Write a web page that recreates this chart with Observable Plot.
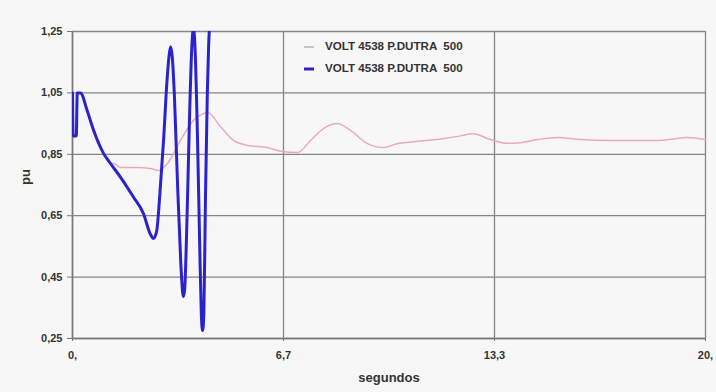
<!DOCTYPE html>
<html>
<head>
<meta charset="utf-8">
<script src="https://cdn.jsdelivr.net/npm/d3@7"></script>
<script src="https://cdn.jsdelivr.net/npm/@observablehq/plot@0.6"></script>
<style>
  html, body { margin: 0; padding: 0; background: #f7f7f7; }
  #wrap { position: relative; width: 716px; height: 392px; }
  #legend { position: absolute; left: 303px; top: 35px; font-family: "Liberation Sans", Arial, sans-serif; font-weight: bold; font-size: 11.6px; color: #333; line-height: 22px; white-space: pre; }
  #legend svg { vertical-align: middle; margin-right: 10px; }
</style>
</head>
<body>
<div id="wrap"></div>
<script>
// Series 1 (light line)
const t1 = [0, 0.02, 0.12, 0.15, 0.25, 0.47, 0.66, 0.98, 1.2, 1.3, 1.52, 2.05, 2.46, 2.72, 3.0, 3.41, 3.82, 4.14, 4.27, 4.68, 5.09, 5.53, 6.16, 6.57, 7.11, 7.52, 7.93, 8.37, 8.78, 9.32, 9.83, 10.27, 10.68, 11.63, 12.26, 12.64, 13.21, 13.74, 14.15, 14.69, 15.32, 16.05, 17.09, 18.48, 18.99, 19.43, 20.0];
const v1 = [1.05, 0.91, 0.91, 1.05, 1.05, 0.99, 0.93, 0.853, 0.82, 0.82, 0.807, 0.807, 0.804, 0.797, 0.82, 0.895, 0.96, 0.983, 0.986, 0.94, 0.895, 0.879, 0.872, 0.86, 0.856, 0.895, 0.934, 0.95, 0.928, 0.885, 0.872, 0.885, 0.89, 0.90, 0.91, 0.917, 0.898, 0.886, 0.888, 0.898, 0.905, 0.898, 0.895, 0.895, 0.90, 0.905, 0.898];
// Series 2 (blue line)
const t2 = [0, 0.02, 0.12, 0.15, 0.25, 0.47, 0.66, 0.98, 1.2, 1.52, 1.93, 2.24, 2.46, 2.56, 2.66, 2.76, 2.88, 2.98, 3.05, 3.10, 3.15, 3.22, 3.32, 3.42, 3.48, 3.51, 3.55, 3.62, 3.70, 3.77, 3.82, 3.87, 3.95, 4.02, 4.07, 4.11, 4.15, 4.20, 4.26, 4.30, 4.33];
const v2 = [1.05, 0.91, 0.91, 1.05, 1.05, 0.99, 0.93, 0.853, 0.82, 0.775, 0.71, 0.657, 0.59, 0.576, 0.60, 0.72, 0.90, 1.08, 1.17, 1.20, 1.17, 1.04, 0.75, 0.50, 0.40, 0.387, 0.42, 0.65, 0.98, 1.20, 1.26, 1.20, 0.90, 0.55, 0.33, 0.276, 0.33, 0.70, 1.05, 1.20, 1.27];

const seriesName = "VOLT 4538 P.DUTRA  500";
const xTicks = [0, 20 / 3, 40 / 3, 20];
const xTickLabels = ["0,", "6,7", "13,3", "20,"];
const yTicks = [0.25, 0.45, 0.65, 0.85, 1.05, 1.25];
const yTickLabels = ["0,25", "0,45", "0,65", "0,85", "1,05", "1,25"];
const xTitle = "segundos";
const yTitle = "pu";

const data1 = t1.map((t, i) => ({t, v: v1[i]}));
const data2 = t2.map((t, i) => ({t, v: v2[i]}));

const font = "'Liberation Sans', Arial, sans-serif";
const chart = Plot.plot({
  width: 716,
  height: 392,
  marginLeft: 72,
  marginRight: 11,
  marginTop: 31,
  marginBottom: 54,
  style: {background: "#f7f7f7", fontFamily: font, fontSize: "11px", fontWeight: "bold", color: "#333"},
  x: {domain: [0, 20], label: null},
  y: {domain: [0.25, 1.25], label: null},
  marks: [
    Plot.gridY(yTicks, {stroke: "#858585", strokeOpacity: 1, strokeWidth: 1.3}),
    Plot.gridX(xTicks, {stroke: "#858585", strokeOpacity: 1, strokeWidth: 1.3}),
    Plot.ruleX([0], {stroke: "#777", strokeWidth: 1.5}),
    Plot.ruleY([0.25], {stroke: "#777", strokeWidth: 1.5}),
    Plot.axisY(yTicks, {tickSize: 5, tickPadding: 5, stroke: "#777", tickFormat: (d, i) => yTickLabels[i], fontSize: 11, fontWeight: "bold", label: null}),
    Plot.axisX(xTicks, {tickSize: 3, tickPadding: 10, stroke: "#777", tickFormat: (d, i) => xTickLabels[i], fontSize: 11, fontWeight: "bold", label: null}),
    Plot.line(data1, {x: "t", y: "v", stroke: "#eba9c0", strokeWidth: 1.5, curve: "monotone-x"}),
    Plot.line(data2, {x: "t", y: "v", stroke: "#2b22cc", strokeWidth: 3, curve: "monotone-x", clip: true}),
    Plot.text([yTitle], {frameAnchor: "left", dx: -47, rotate: -90, fontSize: 13, fontWeight: "bold", fill: "#333"}),
    Plot.text([xTitle], {frameAnchor: "bottom", dy: 43, fontSize: 13, fontWeight: "bold", fill: "#333"})
  ]
});

const wrap = document.getElementById("wrap");
wrap.appendChild(chart);
const legend = document.createElement("div");
legend.id = "legend";
legend.innerHTML =
  `<div><svg width="12" height="6"><line x1="1" x2="11" y1="3" y2="3" stroke="#c4c4c4" stroke-width="2"/></svg>${seriesName}</div>` +
  `<div><svg width="12" height="6"><line x1="1" x2="11" y1="3" y2="3" stroke="#2b22cc" stroke-width="3"/></svg>${seriesName}</div>`;
wrap.appendChild(legend);
</script>
</body>
</html>
